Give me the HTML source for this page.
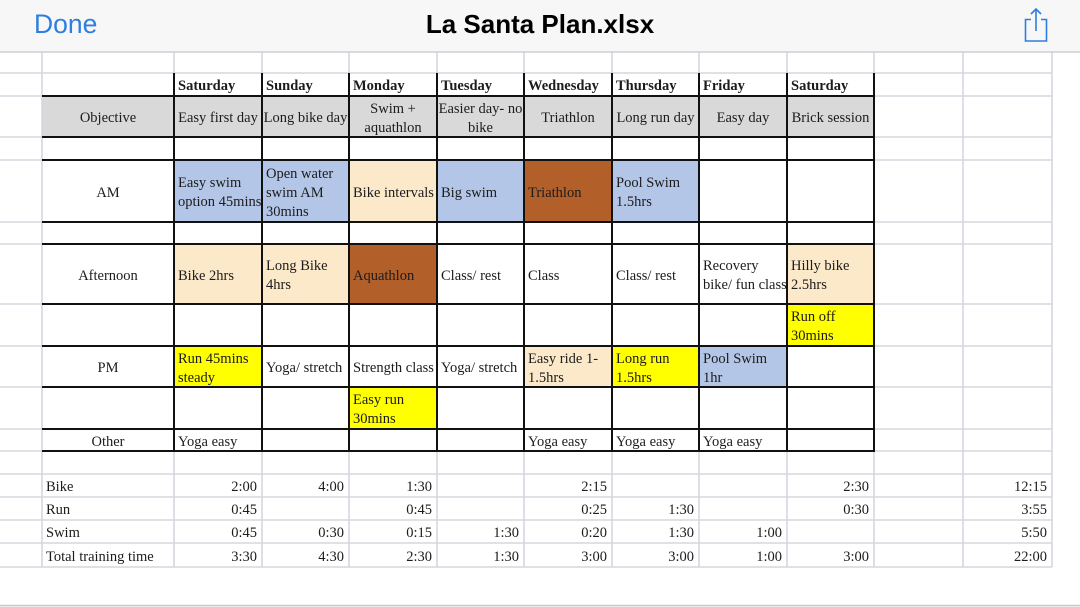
<!DOCTYPE html>
<html><head><meta charset="utf-8">
<style>
html,body{margin:0;padding:0;}
body{width:1080px;height:607px;background:#fff;position:relative;overflow:hidden;font-family:"Liberation Serif",serif;}
.c{position:absolute;display:flex;align-items:center;box-sizing:border-box;padding:4px 4px 0 4px;font-size:14.5px;line-height:19px;color:#1c1c1c;overflow:hidden;white-space:nowrap;}
.m{justify-content:center;text-align:center;padding:4px 0 0 0;}
.r{justify-content:flex-end;padding:4px 5px 0 4px;}
.b{font-weight:bold;}
.gr{background:#d9d9d9;}
.bl{background:#b4c6e7;}
.pe{background:#fce9ca;}
.br{background:#b25f29;}
.ye{background:#ffff00;}
svg{position:absolute;left:0;top:0;}
</style></head><body>
<div style="position:absolute;left:0;top:0;width:1080px;height:52px;background:#f7f7f7;"></div>
<div style="position:absolute;left:0;top:606px;width:1080px;height:1px;background:#f4f4f4;"></div>

<!-- Day header row -->
<div class="c b" style="left:174px;top:73px;width:88px;height:23px;">Saturday</div>
<div class="c b" style="left:262px;top:73px;width:87px;height:23px;">Sunday</div>
<div class="c b" style="left:349px;top:73px;width:88px;height:23px;">Monday</div>
<div class="c b" style="left:437px;top:73px;width:87px;height:23px;">Tuesday</div>
<div class="c b" style="left:524px;top:73px;width:88px;height:23px;">Wednesday</div>
<div class="c b" style="left:612px;top:73px;width:87px;height:23px;">Thursday</div>
<div class="c b" style="left:699px;top:73px;width:88px;height:23px;">Friday</div>
<div class="c b" style="left:787px;top:73px;width:87px;height:23px;">Saturday</div>

<!-- Objective row -->
<div class="c m gr" style="left:42px;top:96px;width:132px;height:41px;">Objective</div>
<div class="c m gr" style="left:174px;top:96px;width:88px;height:41px;">Easy first day</div>
<div class="c m gr" style="left:262px;top:96px;width:87px;height:41px;">Long bike day</div>
<div class="c m gr" style="left:349px;top:96px;width:88px;height:41px;">Swim +<br>aquathlon</div>
<div class="c m gr" style="left:437px;top:96px;width:87px;height:41px;">Easier day- no<br>bike</div>
<div class="c m gr" style="left:524px;top:96px;width:88px;height:41px;">Triathlon</div>
<div class="c m gr" style="left:612px;top:96px;width:87px;height:41px;">Long run day</div>
<div class="c m gr" style="left:699px;top:96px;width:88px;height:41px;">Easy day</div>
<div class="c m gr" style="left:787px;top:96px;width:87px;height:41px;">Brick session</div>

<!-- AM row -->
<div class="c m" style="left:42px;top:160px;width:132px;height:62px;">AM</div>
<div class="c bl" style="left:174px;top:160px;width:88px;height:62px;">Easy swim<br>option 45mins</div>
<div class="c bl" style="left:262px;top:160px;width:87px;height:62px;">Open water<br>swim AM<br>30mins</div>
<div class="c pe" style="left:349px;top:160px;width:88px;height:62px;">Bike intervals</div>
<div class="c bl" style="left:437px;top:160px;width:87px;height:62px;">Big swim</div>
<div class="c br" style="left:524px;top:160px;width:88px;height:62px;">Triathlon</div>
<div class="c bl" style="left:612px;top:160px;width:87px;height:62px;">Pool Swim<br>1.5hrs</div>

<!-- Afternoon row -->
<div class="c m" style="left:42px;top:244px;width:132px;height:60px;">Afternoon</div>
<div class="c pe" style="left:174px;top:244px;width:88px;height:60px;">Bike 2hrs</div>
<div class="c pe" style="left:262px;top:244px;width:87px;height:60px;">Long Bike<br>4hrs</div>
<div class="c br" style="left:349px;top:244px;width:88px;height:60px;">Aquathlon</div>
<div class="c" style="left:437px;top:244px;width:87px;height:60px;">Class/ rest</div>
<div class="c" style="left:524px;top:244px;width:88px;height:60px;">Class</div>
<div class="c" style="left:612px;top:244px;width:87px;height:60px;">Class/ rest</div>
<div class="c" style="left:699px;top:244px;width:88px;height:60px;">Recovery<br>bike/ fun class</div>
<div class="c pe" style="left:787px;top:244px;width:87px;height:60px;">Hilly bike<br>2.5hrs</div>

<!-- Row after afternoon -->
<div class="c ye" style="left:787px;top:304px;width:87px;height:42px;">Run off<br>30mins</div>

<!-- PM row -->
<div class="c m" style="left:42px;top:346px;width:132px;height:41px;">PM</div>
<div class="c ye" style="left:174px;top:346px;width:88px;height:41px;">Run 45mins<br>steady</div>
<div class="c" style="left:262px;top:346px;width:87px;height:41px;">Yoga/ stretch</div>
<div class="c" style="left:349px;top:346px;width:88px;height:41px;">Strength class</div>
<div class="c" style="left:437px;top:346px;width:87px;height:41px;">Yoga/ stretch</div>
<div class="c pe" style="left:524px;top:346px;width:88px;height:41px;">Easy ride 1-<br>1.5hrs</div>
<div class="c ye" style="left:612px;top:346px;width:87px;height:41px;">Long run<br>1.5hrs</div>
<div class="c bl" style="left:699px;top:346px;width:88px;height:41px;">Pool Swim<br>1hr</div>

<!-- Row after PM -->
<div class="c ye" style="left:349px;top:387px;width:88px;height:42px;">Easy run<br>30mins</div>

<!-- Other row -->
<div class="c m" style="left:42px;top:429px;width:132px;height:22px;">Other</div>
<div class="c" style="left:174px;top:429px;width:88px;height:22px;">Yoga easy</div>
<div class="c" style="left:524px;top:429px;width:88px;height:22px;">Yoga easy</div>
<div class="c" style="left:612px;top:429px;width:87px;height:22px;">Yoga easy</div>
<div class="c" style="left:699px;top:429px;width:88px;height:22px;">Yoga easy</div>

<!-- Totals -->
<div class="c" style="left:42px;top:474px;width:132px;height:23px;">Bike</div>
<div class="c r" style="left:174px;top:474px;width:88px;height:23px;">2:00</div>
<div class="c r" style="left:262px;top:474px;width:87px;height:23px;">4:00</div>
<div class="c r" style="left:349px;top:474px;width:88px;height:23px;">1:30</div>
<div class="c r" style="left:524px;top:474px;width:88px;height:23px;">2:15</div>
<div class="c r" style="left:787px;top:474px;width:87px;height:23px;">2:30</div>
<div class="c r" style="left:963px;top:474px;width:89px;height:23px;">12:15</div>

<div class="c" style="left:42px;top:497px;width:132px;height:23px;">Run</div>
<div class="c r" style="left:174px;top:497px;width:88px;height:23px;">0:45</div>
<div class="c r" style="left:349px;top:497px;width:88px;height:23px;">0:45</div>
<div class="c r" style="left:524px;top:497px;width:88px;height:23px;">0:25</div>
<div class="c r" style="left:612px;top:497px;width:87px;height:23px;">1:30</div>
<div class="c r" style="left:787px;top:497px;width:87px;height:23px;">0:30</div>
<div class="c r" style="left:963px;top:497px;width:89px;height:23px;">3:55</div>

<div class="c" style="left:42px;top:520px;width:132px;height:23px;">Swim</div>
<div class="c r" style="left:174px;top:520px;width:88px;height:23px;">0:45</div>
<div class="c r" style="left:262px;top:520px;width:87px;height:23px;">0:30</div>
<div class="c r" style="left:349px;top:520px;width:88px;height:23px;">0:15</div>
<div class="c r" style="left:437px;top:520px;width:87px;height:23px;">1:30</div>
<div class="c r" style="left:524px;top:520px;width:88px;height:23px;">0:20</div>
<div class="c r" style="left:612px;top:520px;width:87px;height:23px;">1:30</div>
<div class="c r" style="left:699px;top:520px;width:88px;height:23px;">1:00</div>
<div class="c r" style="left:963px;top:520px;width:89px;height:23px;">5:50</div>

<div class="c" style="left:42px;top:543px;width:132px;height:24px;">Total training time</div>
<div class="c r" style="left:174px;top:543px;width:88px;height:24px;">3:30</div>
<div class="c r" style="left:262px;top:543px;width:87px;height:24px;">4:30</div>
<div class="c r" style="left:349px;top:543px;width:88px;height:24px;">2:30</div>
<div class="c r" style="left:437px;top:543px;width:87px;height:24px;">1:30</div>
<div class="c r" style="left:524px;top:543px;width:88px;height:24px;">3:00</div>
<div class="c r" style="left:612px;top:543px;width:87px;height:24px;">3:00</div>
<div class="c r" style="left:699px;top:543px;width:88px;height:24px;">1:00</div>
<div class="c r" style="left:787px;top:543px;width:87px;height:24px;">3:00</div>
<div class="c r" style="left:963px;top:543px;width:89px;height:24px;">22:00</div>

<svg width="1080" height="607" viewBox="0 0 1080 607">
  <path d="M0 73H1052M0 96H1052M0 137H1052M0 160H1052M0 222H1052M0 244H1052M0 304H1052M0 346H1052M0 387H1052M0 429H1052M0 451H1052M0 474H1052M0 497H1052M0 520H1052M0 543H1052M0 567H1052" stroke="#d6d6df" stroke-width="1.6" fill="none"/>
  <path d="M42 52V567M174 52V567M262 52V567M349 52V567M437 52V567M524 52V567M612 52V567M699 52V567M787 52V567M874 52V567M963 52V567M1052 52V567" stroke="#d6d6df" stroke-width="1.6" fill="none"/>
  <path d="M0 52H1080" stroke="#cfcfd2" stroke-width="1.5"/>
  <path d="M0 605.5H1080" stroke="#c9c9cc" stroke-width="1.5"/>
  <path d="M42 96H875M42 137H875M42 160H875M42 222H875M42 244H875M42 304H875M42 346H875M42 387H875M42 429H875M42 451H875" stroke="#111" stroke-width="2" fill="none"/>
  <path d="M174 73V452M262 73V452M349 73V452M437 73V452M524 73V452M612 73V452M699 73V452M787 73V452M874 73V452" stroke="#111" stroke-width="2" fill="none"/>
  <text x="34" y="33" font-family="Liberation Sans, sans-serif" font-size="26.5" fill="#2f7de1">Done</text>
  <text x="540" y="33" text-anchor="middle" font-family="Liberation Sans, sans-serif" font-size="26" font-weight="bold" fill="#000">La Santa Plan.xlsx</text>
  <path d="M1031 19.5H1025.5V41H1046.5V19.5H1041" stroke="#2f7de1" stroke-width="1.6" fill="none"/>
  <path d="M1036 9V31M1031 14L1036 9L1041 14" stroke="#2f7de1" stroke-width="1.6" fill="none"/>
</svg>
</body></html>
